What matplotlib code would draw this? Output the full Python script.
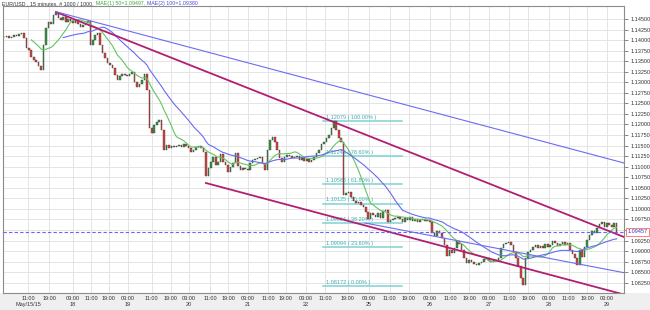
import numpy as np
import pandas as pd
import matplotlib
matplotlib.use("Agg")
import matplotlib.pyplot as plt
from matplotlib.patches import Rectangle

plt.rcParams['font.family'] = ['Liberation Sans', 'DejaVu Sans']

# EUR/USD closes (one value per hour = 4 bars of 15 min)
closes = [
    1.1407, 1.1410, 1.1405, 1.1407, 1.1412, 1.1410, 1.1414, 1.1417, 1.1405, 1.1381,
    1.1377, 1.1360, 1.1353, 1.1348, 1.1339, 1.1329, 1.1388, 1.1429, 1.1443, 1.1438,
    1.1459, 1.1464, 1.1452, 1.1448, 1.1455, 1.1443, 1.1450, 1.1445, 1.1440, 1.1448,
    1.1438, 1.1431, 1.1436, 1.1440, 1.1445, 1.1388, 1.1400, 1.1412, 1.1417, 1.1388,
    1.1369, 1.1358, 1.1346, 1.1341, 1.1334, 1.1317, 1.1305, 1.1315, 1.1320, 1.1317,
    1.1315, 1.1320, 1.1324, 1.1301, 1.1289, 1.1296, 1.1305, 1.1320, 1.1282, 1.1192,
    1.1180, 1.1199, 1.1206, 1.1211, 1.1187, 1.1139, 1.1151, 1.1144, 1.1149, 1.1147,
    1.1149, 1.1151, 1.1147, 1.1154, 1.1149, 1.1144, 1.1135, 1.1139, 1.1147, 1.1149,
    1.1144, 1.1135, 1.1078, 1.1097, 1.1111, 1.1123, 1.1104, 1.1111, 1.1130, 1.1111,
    1.1104, 1.1087, 1.1099, 1.1109, 1.1132, 1.1102, 1.1092, 1.1097, 1.1094, 1.1092,
    1.1109, 1.1116, 1.1118, 1.1121, 1.1123, 1.1109, 1.1092, 1.1139, 1.1163, 1.1170,
    1.1158, 1.1139, 1.1121, 1.1111, 1.1123, 1.1128, 1.1125, 1.1121, 1.1123, 1.1125,
    1.1116, 1.1121, 1.1113, 1.1118, 1.1111, 1.1116, 1.1123, 1.1132, 1.1139, 1.1154,
    1.1158, 1.1168, 1.1175, 1.1192, 1.12079, 1.1187, 1.1168, 1.1158, 1.1033, 1.1038,
    1.1040, 1.1028, 1.1019, 1.1014, 1.1016, 1.1009, 1.1004, 1.0993, 1.0976, 1.0990,
    1.0985, 1.0981, 1.0990, 1.0978, 1.0995, 1.0997, 1.0969, 1.0974, 1.0976, 1.0978,
    1.0981, 1.0976, 1.0969, 1.0978, 1.0974, 1.0981, 1.0971, 1.0976, 1.0969, 1.0974,
    1.0976, 1.0971, 1.0974, 1.0969, 1.0943, 1.0936, 1.0948, 1.0943, 1.0931, 1.0914,
    1.0888, 1.0903, 1.0895, 1.0907, 1.0924, 1.0917, 1.0903, 1.0884, 1.0872, 1.0879,
    1.0874, 1.0869, 1.0867, 1.0872, 1.0874, 1.0881, 1.0884, 1.0876, 1.0874, 1.0879,
    1.0879, 1.0884, 1.0907, 1.0917, 1.0919, 1.0921, 1.0914, 1.0898, 1.0884, 1.0865,
    1.0836, 1.0820, 1.0884, 1.0898, 1.0903, 1.0910, 1.0914, 1.0907, 1.0912, 1.0907,
    1.0917, 1.0910, 1.0914, 1.0924, 1.0919, 1.0912, 1.0917, 1.0921, 1.0914, 1.0919,
    1.0903, 1.0893, 1.0884, 1.0867, 1.0903, 1.0886, 1.0910, 1.0926, 1.0938, 1.0948,
    1.0943, 1.0955, 1.0964, 1.0969, 1.0957, 1.0966, 1.0962, 1.0957, 1.0966, 1.09457,
]
bars_per_point = 4
ma_fast = 12   # 50 bars of 15 min
ma_slow = 25   # 100 bars of 15 min

# time axis ticks (bar index) and labels
tick_bars = [41, 75, 114, 143, 172, 203, 242, 273, 302, 337, 366, 398, 431, 460, 493,
             524, 561, 595, 629, 660, 694, 727, 758, 790, 823, 854, 888, 920, 950, 982]
tick_labels = ['11:00\nMay/15/15', '19:00',
               '03:00\n18', '11:00', '19:00',
               '03:00\n19', '11:00', '19:00',
               '03:00\n20', '11:00', '19:00',
               '03:00\n21', '11:00', '19:00',
               '03:00\n22', '11:00', '19:00',
               '03:00\n25', '11:00', '19:00',
               '03:00\n26', '11:00', '19:00',
               '03:00\n27', '11:00', '19:00',
               '03:00\n28', '11:00', '19:00',
               '03:00\n29']

# fibonacci retracement
fib_levels = [1.12079, 1.11243, 1.10586, 1.10125, 1.09664, 1.09094, 1.08172]
fib_pcts = ['100.00%', '78.60%', '61.80%', '50.00%', '38.20%', '23.60%', '0.00%']
fib_from, fib_to = 520, 649

# trend lines: (bar, price) end points
magenta_lines = [((86, 1.14666), (1010, 1.09333)),
                 ((330, 1.10613), (1010, 1.07970))]
blue_lines = [((88, 1.14666), (1010, 1.11087)),
              ((589, 1.09665), (1010, 1.08487))]

last_price = 1.09457
header_txt = 'EUR/USD , 15 minutes, # 1000 / 1000,'
ma_fast_txt = 'MAE(1) 50=1.09497,'
ma_slow_txt = 'MAE(2) 100=1.09380'

s = pd.Series(closes)
opens = s.shift(1).fillna(s.iloc[0])
x = np.arange(len(s)) * bars_per_point + bars_per_point / 2

fig = plt.figure(figsize=(6.5, 3.1), dpi=100, facecolor='white')
fig.patches.append(Rectangle((0, 0), 1, 17 / 310, transform=fig.transFigure,
                             fc='#EFEFEF', ec='none', zorder=-5))
ax = fig.add_axes([3 / 650, 17 / 310, 621 / 650, 287 / 310])
ax.set_xlim(0, 1010)
ax.set_ylim(1.08006, 1.14808)

# grid
ax.set_axisbelow(True)
ax.grid(True, color='#E4E4E4', lw=0.7)

# fib levels
for lvl, pct in zip(fib_levels, fib_pcts):
    ax.plot([fib_from, fib_to], [lvl, lvl], color='#7FD2D2', lw=1.1, zorder=1)
    ax.text(fib_from + 5, lvl + 0.0003, f'{lvl:.5f} ( {pct} )', fontsize=4,
            color='#3DAFAF', va='bottom', ha='left', zorder=1)

# candles
up = s >= opens
ax.bar(x, (s - opens).abs(), bottom=np.minimum(s, opens), width=2.6,
       color=np.where(up, '#2F9E3F', '#E0413A'), edgecolor='#3A3A3A',
       linewidth=0.3, zorder=2)

# moving averages
ax.plot(x, s.rolling(ma_fast).mean(), color='#62C462', lw=0.8, zorder=3)
ax.plot(x, s.rolling(ma_slow).mean(), color='#6A6AF2', lw=0.8, zorder=3)

# trend lines
for (x0, y0), (x1, y1) in magenta_lines:
    ax.plot([x0, x1], [y0, y1], color='#B21F72', lw=1.3, zorder=4)
for (x0, y0), (x1, y1) in blue_lines:
    ax.plot([x0, x1], [y0, y1], color='#6C6CF0', lw=0.8, zorder=4)

# last price
ax.axhline(last_price, color='#6464FF', lw=0.8, ls=(0, (3, 2)), zorder=4)
ax.text(1.006, last_price, f'{last_price:.5f}', transform=ax.get_yaxis_transform(),
        fontsize=4, color='#3434C8', va='center', ha='left',
        bbox=dict(boxstyle='square,pad=0.25', fc='white', ec='#FF6666', lw=0.6))

# axes (the label next to the last price box is hidden, as in the chart)
ax.yaxis.tick_right()
yt = np.arange(1.0825, 1.14501, 0.0025)
ax.set_yticks(yt)
ax.set_yticklabels(['' if abs(v - last_price) < 0.001 else f'{v:.5f}' for v in yt])
ax.set_xticks(tick_bars)
ax.set_xticklabels(tick_labels)
ax.tick_params(axis='y', labelsize=4, length=3, width=0.5, pad=1.5,
               colors='#555555', labelcolor='#333333')
ax.tick_params(axis='x', labelsize=4, length=0, pad=2, labelcolor='#333333')
for sp in ax.spines.values():
    sp.set_color('#8C8C8C')
    sp.set_linewidth(0.8)

# header, pieces placed one after the other
hy = 1 - 3.5 / 310
t = fig.text(2 / 650, hy, header_txt, fontsize=3.8, color='#333333',
             va='center', ha='left')
fig.canvas.draw()
r = fig.canvas.get_renderer()
x_next = t.get_window_extent(r).x1 + 2
t = fig.text(x_next / 650, hy, ma_fast_txt, fontsize=3.8, color='#3FA83F',
             va='center', ha='left')
x_next = t.get_window_extent(r).x1 + 2
fig.text(x_next / 650, hy, ma_slow_txt, fontsize=3.8, color='#4A4AE6',
         va='center', ha='left')

fig.savefig('out.png', dpi=100)
